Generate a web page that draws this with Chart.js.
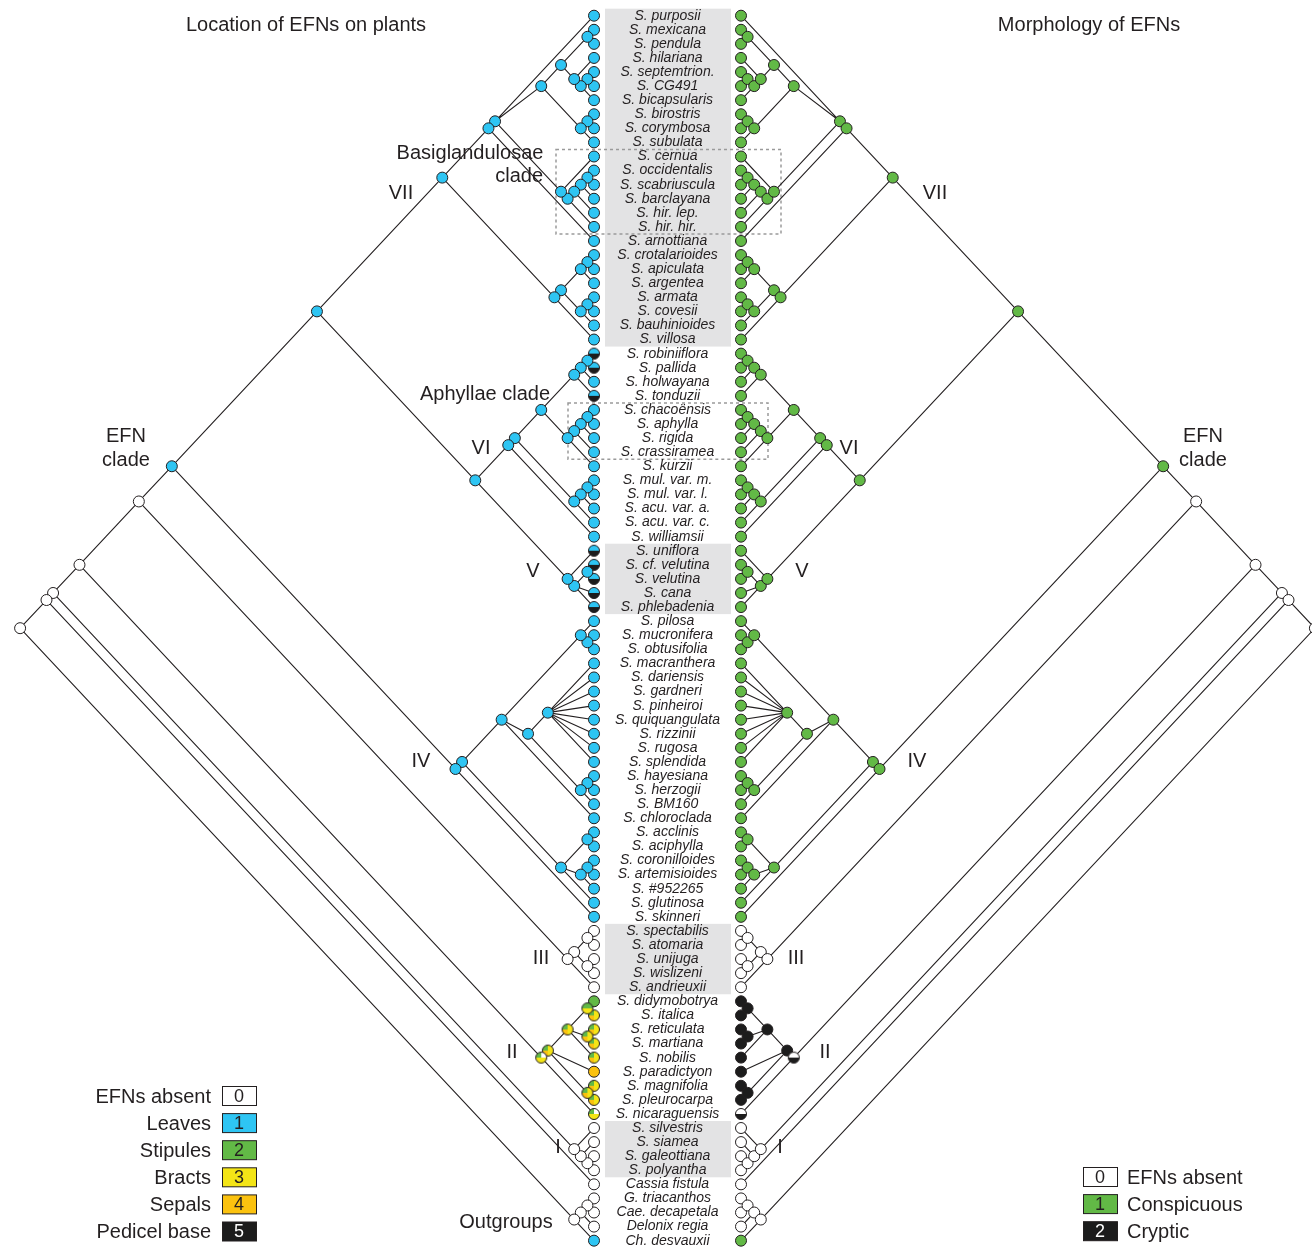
<!DOCTYPE html>
<html>
<head>
<meta charset="utf-8">
<script src="https://cdn.jsdelivr.net/npm/chart.js@4/dist/chart.umd.min.js"></script>
<style>
  html, body { margin: 0; padding: 0; background: #fff; }
</style>
</head>
<body>
<canvas id="tree" width="1312" height="1252"></canvas>
<script>
// ---- data ----
const species = [
  'S. purposii', 'S. mexicana', 'S. pendula', 'S. hilariana', 'S. septemtrion.', 'S. CG491', 'S. bicapsularis', 'S. birostris', 'S. corymbosa', 'S. subulata',
  'S. cernua', 'S. occidentalis', 'S. scabriuscula', 'S. barclayana', 'S. hir. lep.', 'S. hir. hir.', 'S. arnottiana', 'S. crotalarioides', 'S. apiculata', 'S. argentea',
  'S. armata', 'S. covesii', 'S. bauhinioides', 'S. villosa', 'S. robiniiflora', 'S. pallida', 'S. holwayana', 'S. tonduzii', 'S. chacoënsis', 'S. aphylla',
  'S. rigida', 'S. crassiramea', 'S. kurzii', 'S. mul. var. m.', 'S. mul. var. l.', 'S. acu. var. a.', 'S. acu. var. c.', 'S. williamsii', 'S. uniflora', 'S. cf. velutina',
  'S. velutina', 'S. cana', 'S. phlebadenia', 'S. pilosa', 'S. mucronifera', 'S. obtusifolia', 'S. macranthera', 'S. dariensis', 'S. gardneri', 'S. pinheiroi',
  'S. quiquangulata', 'S. rizzinii', 'S. rugosa', 'S. splendida', 'S. hayesiana', 'S. herzogii', 'S. BM160', 'S. chloroclada', 'S. acclinis', 'S. aciphylla',
  'S. coronilloides', 'S. artemisioides', 'S. #952265', 'S. glutinosa', 'S. skinneri', 'S. spectabilis', 'S. atomaria', 'S. unijuga', 'S. wislizeni', 'S. andrieuxii',
  'S. didymobotrya', 'S. italica', 'S. reticulata', 'S. martiana', 'S. nobilis', 'S. paradictyon', 'S. magnifolia', 'S. pleurocarpa', 'S. nicaraguensis', 'S. silvestris',
  'S. siamea', 'S. galeottiana', 'S. polyantha', 'Cassia fistula', 'G. triacanthos', 'Cae. decapetala', 'Delonix regia', 'Ch. desvauxii'
];

// clades as nested lists of tip rows (1 = top)
const cladeVII = [[[1, [[[2, 3], [4, [[5, 6], 7]]], [[8, 9], 10]], [11, [[[[12, 13], 14], 15], 16]]], 17],
                  [[[[18, 19], 20], [[21, 22], 23]], 24]];
const cladeVI = [[[[[[25, 26], 27], 28], [[[[29, 30], 31], 32], 33]], [[[34, 35], 36], 37]], 38];
const cladeV = [39, [[40, 41], 42, 43]];
const cladeIV = [[[[44, [45, 46]], [[47, 48, 49, 50, 51, 52, 53, 54], [[55, 56], 57]], 58],
                  [[59, 60], [[61, 62], 63], 64]], 65];
const cladeIII = [[[66, 67], [68, 69]], 70];
const cladeII = [[[[71, 72], [73, 74], 75], 76, [77, 78]], 79];
const cladeI = [80, [81, [82, 83]]];
const outgroups = [[[85, 86], 87], 88];
const tree = [[[[[[[cladeVII, [cladeVI, cladeV]], cladeIV], cladeIII], cladeII], cladeI], 84], outgroups];

// character states at tips, one char per pie slice
const leftTipStates = [
  '1', '1', '1', '1', '1', '1', '1', '1', '1', '1',
  '1', '1', '1', '1', '1', '1', '1', '1', '1', '1',
  '1', '1', '1', '1', '15', '15', '1', '15', '1', '1',
  '1', '1', '1', '1', '1', '1', '1', '1', '15', '15',
  '15', '15', '15', '1', '1', '1', '1', '1', '1', '1',
  '1', '1', '1', '1', '1', '1', '1', '1', '1', '1',
  '1', '1', '1', '1', '1', '0', '0', '0', '0', '0',
  '2', '2334', '2334', '2334', '2334', '4', '2334', '2334', '2033', '0',
  '0', '0', '0', '0', '0', '0', '0', '1'
];
const rightTipStates = [
  '1', '1', '1', '1', '1', '1', '1', '1', '1', '1',
  '1', '1', '1', '1', '1', '1', '1', '1', '1', '1',
  '1', '1', '1', '1', '1', '1', '1', '1', '1', '1',
  '1', '1', '1', '1', '1', '1', '1', '1', '1', '1',
  '1', '1', '1', '1', '1', '1', '1', '1', '1', '1',
  '1', '1', '1', '1', '1', '1', '1', '1', '1', '1',
  '1', '1', '1', '1', '1', '0', '0', '0', '0', '0',
  '2', '2', '2', '2', '2', '2', '2', '2', '02', '0',
  '0', '0', '0', '0', '0', '0', '0', '1'
];
// internal node states: [first tip, last tip, state]; exact matches first, then blocks
const leftNodeExact = [[71, 79, '2033'], [71, 72, '2233'], [71, 78, '2334'], [71, 75, '2334'], [73, 74, '2334'], [77, 78, '2334']];
const leftNodeBlocks = [[1, 65, '1'], [66, 70, '0'], [71, 79, '23'], [80, 88, '0']];
const rightNodeExact = [[71, 79, '02']];
const rightNodeBlocks = [[1, 65, '1'], [66, 70, '0'], [71, 79, '2'], [80, 88, '0']];

const leftLegend = [['0', 'EFNs absent'], ['1', 'Leaves'], ['2', 'Stipules'], ['3', 'Bracts'], ['4', 'Sepals'], ['5', 'Pedicel base']];
const rightLegend = [['0', 'EFNs absent'], ['1', 'Conspicuous'], ['2', 'Cryptic']];
const shadedRows = [[1, 24], [39, 43], [66, 70], [80, 83]];
const dashedRows = [[11, 16], [29, 32]];

// ---- styles / layout ----
const leftColors = { '0': '#ffffff', '1': '#2ec5f3', '2': '#62b946', '3': '#f4e516', '4': '#fbc20f', '5': '#1c1c1c' };
const rightColors = { '0': '#ffffff', '1': '#62b946', '2': '#1c1c1c' };
const W = 1312, H = 1252;
const ROW_PX = 14.08, ROW1_Y = 15.7, CENTER_X = 667.5;
const TIP = 73.5 / ROW_PX;
const SLOPE = 0.937;
const INK = '#231f20';
const FONT = '"Liberation Sans", Arial, sans-serif';

function layout(node, side, out) {
  if (typeof node === 'number') {
    const tip = { first: node, last: node, x: side * TIP, y: node, tip: true };
    out.nodes.push(tip);
    return tip;
  }
  const kids = node.map(c => layout(c, side, out));
  const first = kids[0].first, last = kids[kids.length - 1].last;
  const me = { first, last, x: side * (TIP + SLOPE * (last - first) / 2), y: (first + last) / 2, tip: false };
  kids.forEach(k => out.edges.push([me, k]));
  out.nodes.push(me);
  return me;
}

function nodeState(n, tipStates, exact, blocks) {
  if (n.tip) return tipStates[n.first - 1];
  const e = exact.find(r => r[0] === n.first && r[1] === n.last);
  if (e) return e[2];
  const b = blocks.find(r => n.first >= r[0] && n.last <= r[1]);
  return b ? b[2] : '0';
}

const pieCache = {};
function pieMarker(code, colors, key) {
  if (pieCache[key + code]) return pieCache[key + code];
  const r = 5.5, s = 14, c = document.createElement('canvas');
  c.width = s; c.height = s;
  const g = c.getContext('2d');
  let a = Math.PI;
  for (const ch of code) {
    const step = 2 * Math.PI / code.length;
    g.beginPath(); g.moveTo(s / 2, s / 2); g.arc(s / 2, s / 2, r, a, a + step); g.closePath();
    g.fillStyle = colors[ch]; g.fill();
    a += step;
  }
  g.beginPath(); g.arc(s / 2, s / 2, r, 0, 2 * Math.PI);
  g.lineWidth = 1; g.strokeStyle = INK; g.stroke();
  pieCache[key + code] = c;
  return c;
}

function buildSide(side, tipStates, exact, blocks, colors, key) {
  const out = { nodes: [], edges: [] };
  layout(tree, side, out);
  const lines = [];
  out.edges.forEach(([a, b]) => { lines.push({ x: a.x, y: a.y }, { x: b.x, y: b.y }, { x: null, y: null }); });
  const styles = [], fills = [];
  out.nodes.forEach(n => {
    const s = nodeState(n, tipStates, exact, blocks);
    if (s.length > 1) { styles.push(pieMarker(s, colors, key)); fills.push('#fff'); }
    else { styles.push('circle'); fills.push(colors[s]); }
  });
  return [
    { data: lines, showLine: true, spanGaps: false, borderColor: INK, borderWidth: 1.1, pointRadius: 0, order: 2, clip: false },
    { data: out.nodes.map(n => ({ x: n.x, y: n.y })), pointStyle: styles, pointBackgroundColor: fills,
      pointBorderColor: INK, pointBorderWidth: 1, pointRadius: 5.5, order: 0, clip: false }
  ];
}

const datasets = [
  ...buildSide(-1, leftTipStates, leftNodeExact, leftNodeBlocks, leftColors, 'L'),
  ...buildSide(1, rightTipStates, rightNodeExact, rightNodeBlocks, rightColors, 'R')
];

const backdrop = {
  id: 'backdrop',
  beforeDatasetsDraw(chart) {
    const { ctx, scales: { x, y } } = chart;
    ctx.save();
    ctx.fillStyle = '#e3e3e4';
    shadedRows.forEach(([a, b]) => {
      const top = y.getPixelForValue(a - 0.5), bot = y.getPixelForValue(b + 0.5);
      ctx.fillRect(605, top, 126, bot - top);
    });
    ctx.strokeStyle = '#9a9a9a'; ctx.lineWidth = 1.5; ctx.setLineDash([3, 3]);
    const boxX = [[556, 781], [568, 768]];
    dashedRows.forEach(([a, b], i) => {
      const top = y.getPixelForValue(a - 0.5), bot = y.getPixelForValue(b + 0.5);
      ctx.strokeRect(boxX[i][0], top, boxX[i][1] - boxX[i][0], bot - top);
    });
    ctx.restore();
  }
};

const textLabels = [
  ['Location of EFNs on plants', 306, 25, 'center'], ['Morphology of EFNs', 1089, 25, 'center'],
  ['Basiglandulosae', 470, 153, 'center'], ['clade', 543, 176, 'right'],
  ['VII', 401, 193, 'center'], ['VII', 935, 193, 'center'],
  ['Aphyllae clade', 485, 394, 'center'], ['VI', 481, 448, 'center'], ['VI', 849, 448, 'center'],
  ['EFN', 126, 436, 'center'], ['clade', 126, 460, 'center'], ['EFN', 1203, 436, 'center'], ['clade', 1203, 460, 'center'],
  ['V', 533, 571, 'center'], ['V', 802, 571, 'center'], ['IV', 421, 761, 'center'], ['IV', 917, 761, 'center'],
  ['III', 541, 958, 'center'], ['III', 796, 958, 'center'], ['II', 512, 1052, 'center'], ['II', 825, 1052, 'center'],
  ['I', 558, 1147, 'center'], ['I', 780, 1147, 'center'], ['Outgroups', 506, 1222, 'center']
];

const labels = {
  id: 'labels',
  afterDatasetsDraw(chart) {
    const { ctx, scales: { x, y } } = chart;
    ctx.save();
    ctx.fillStyle = INK;
    ctx.textBaseline = 'middle';
    ctx.textAlign = 'center';
    ctx.font = 'italic 14px ' + FONT;
    species.forEach((name, i) => ctx.fillText(name, x.getPixelForValue(0), y.getPixelForValue(i + 1)));

    ctx.font = '20px ' + FONT;
    textLabels.forEach(([t, px, py, al]) => { ctx.textAlign = al; ctx.fillText(t, px, py); });

    // legends
    const drawKey = (code, colors, bx, by) => {
      ctx.fillStyle = colors[code];
      ctx.fillRect(bx, by - 9.5, 34, 19);
      ctx.strokeStyle = INK; ctx.lineWidth = 1;
      ctx.strokeRect(bx + 0.5, by - 9.5, 34, 19);
      ctx.fillStyle = colors[code] === '#1c1c1c' ? '#fff' : INK;
      ctx.textAlign = 'center'; ctx.font = '18px ' + FONT;
      ctx.fillText(code, bx + 17, by + 1);
    };
    leftLegend.forEach(([code, name], i) => {
      const by = 1096 + i * 27.1;
      drawKey(code, leftColors, 222, by);
      ctx.fillStyle = INK; ctx.textAlign = 'right'; ctx.font = '20px ' + FONT;
      ctx.fillText(name, 211, by + 1);
    });
    rightLegend.forEach(([code, name], i) => {
      const by = 1177 + i * 27.1;
      drawKey(code, rightColors, 1083, by);
      ctx.fillStyle = INK; ctx.textAlign = 'left'; ctx.font = '20px ' + FONT;
      ctx.fillText(name, 1127, by + 1);
    });
    ctx.restore();
  }
};

new Chart(document.getElementById('tree').getContext('2d'), {
  type: 'scatter',
  data: { datasets },
  options: {
    responsive: false,
    devicePixelRatio: 1,
    animation: false,
    events: [],
    layout: { padding: 0, autoPadding: false },
    plugins: { legend: { display: false }, tooltip: { enabled: false } },
    scales: {
      x: { type: 'linear', display: false, min: -CENTER_X / ROW_PX, max: (W - CENTER_X) / ROW_PX },
      y: { type: 'linear', display: false, reverse: true, min: 1 - ROW1_Y / ROW_PX, max: 1 + (H - ROW1_Y) / ROW_PX }
    }
  },
  plugins: [backdrop, labels]
});
</script>
</body>
</html>
